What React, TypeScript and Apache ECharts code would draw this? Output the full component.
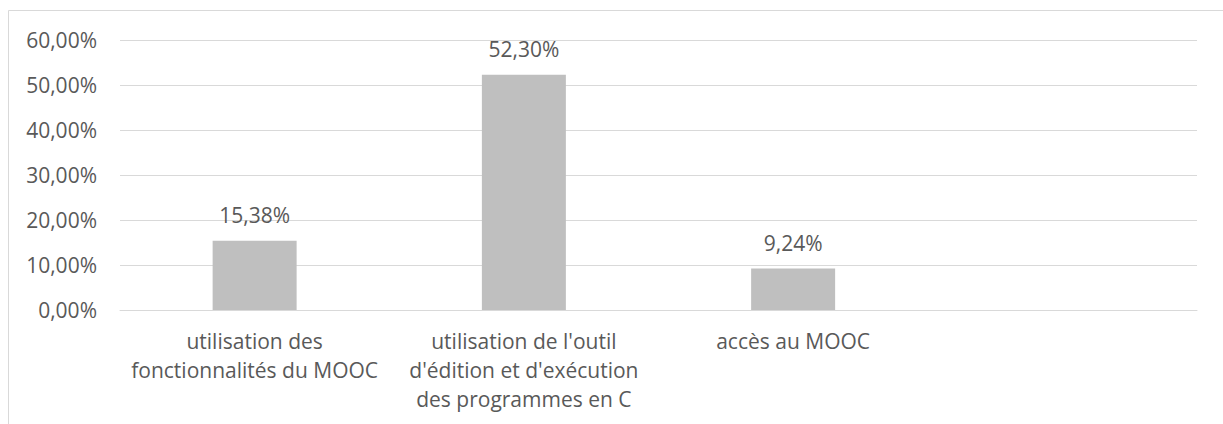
import React, { useEffect, useRef } from "react";
import * as echarts from "echarts";

const categories = [
  "utilisation des\nfonctionnalités du MOOC",
  "utilisation de l'outil\nd'édition et d'exécution\ndes programmes en C",
  "accès au MOOC",
  "",
];
const values: (number | null)[] = [15.38, 52.3, 9.24, null];
const yTicks = { min: 0, max: 60, interval: 10 };

const fmt = (v: number) => v.toFixed(2).replace(".", ",") + "%";

export default function App() {
  const ref = useRef<HTMLDivElement>(null);
  useEffect(() => {
    if (!ref.current) return;
    const chart = echarts.init(ref.current, undefined, { renderer: "svg" });
    const font = "'Open Sans', sans-serif";
    chart.setOption({
      animation: false,
      backgroundColor: "#ffffff",
      grid: { left: 120, right: 26, top: 40, bottom: 114 },
      graphic: [
        {
          type: "rect",
          shape: { x: 8.5, y: 10.5, width: 1240, height: 440 },
          style: { fill: "none", stroke: "#d9d9d9", lineWidth: 1 },
          silent: true,
        },
      ],
      xAxis: {
        type: "category",
        data: categories,
        axisLine: { show: true, lineStyle: { color: "#d9d9d9", width: 1 } },
        axisTick: { show: false },
        axisLabel: {
          color: "#595959",
          fontFamily: font,
          fontSize: 21,
          lineHeight: 29,
          margin: 16,
          interval: 0,
        },
      },
      yAxis: {
        type: "value",
        min: yTicks.min,
        max: yTicks.max,
        interval: yTicks.interval,
        axisLine: { show: false },
        axisTick: { show: false },
        splitLine: { lineStyle: { color: "#d9d9d9", width: 1 } },
        axisLabel: {
          color: "#595959",
          fontFamily: font,
          fontSize: 21,
          margin: 23,
          formatter: (v: number) => fmt(v),
        },
      },
      series: [
        {
          type: "bar",
          data: values,
          barWidth: 84,
          itemStyle: { color: "#bfbfbf" },
          label: {
            show: true,
            position: "top",
            distance: 15,
            color: "#595959",
            fontFamily: font,
            fontSize: 21,
            formatter: (p: any) => fmt(p.value),
          },
        },
      ],
    });
    return () => chart.dispose();
  }, []);
  return (
    <div
      ref={ref}
      style={{ position: "fixed", left: 0, top: 0, width: 1223, height: 424 }}
    />
  );
}
